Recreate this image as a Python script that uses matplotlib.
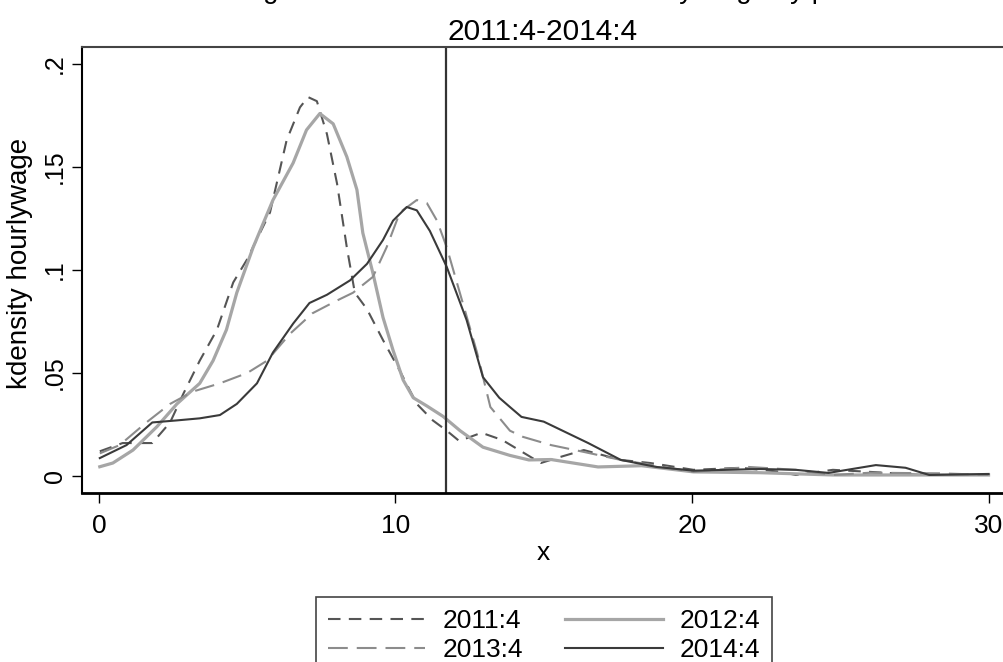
import numpy as np
import matplotlib.pyplot as plt

plt.rcParams['font.family'] = ['Liberation Sans', 'DejaVu Sans']

# kdensity hourlywage
x11 = [0.03, 0.8, 1.5, 1.8, 2.4, 2.85, 3.4, 3.98, 4.53, 4.99, 5.77, 6.33, 6.78, 7.05,
       7.35, 7.69, 8.03, 8.36, 8.63, 9.04, 9.58, 10.15, 10.72, 11.26, 11.73, 12.15,
       12.9, 13.6, 14.9, 15.5, 16.35, 17.6, 18.6, 20.05, 21.65, 23.0, 23.5, 24.75,
       26.0, 27.8, 30.0]
y11 = [0.012, 0.016, 0.016, 0.016, 0.026, 0.040, 0.056, 0.071, 0.094, 0.105, 0.128,
       0.163, 0.179, 0.184, 0.182, 0.166, 0.142, 0.111, 0.089, 0.081, 0.066, 0.051,
       0.035, 0.027, 0.022, 0.017, 0.021, 0.0175, 0.0063, 0.009, 0.0126, 0.0078,
       0.0063, 0.003, 0.004, 0.002, 0.0005, 0.003, 0.002, 0.0005, 0.0005]

x12 = [0.03, 0.47, 1.15, 1.96, 2.63, 3.4, 3.85, 4.3, 4.65, 5.2, 5.87, 6.55, 7.0, 7.45,
       7.9, 8.36, 8.7, 8.9, 9.24, 9.58, 9.92, 10.26, 10.6, 11.06, 11.6, 12.18, 12.95,
       13.86, 14.5, 15.25, 16.83, 18.3, 20.05, 22.3, 24.75, 30.0]
y12 = [0.0045, 0.0063, 0.0126, 0.024, 0.035, 0.045, 0.056, 0.071, 0.089, 0.111, 0.134,
       0.152, 0.168, 0.176, 0.171, 0.155, 0.139, 0.118, 0.0985, 0.077, 0.061, 0.0466,
       0.038, 0.034, 0.029, 0.022, 0.014, 0.010, 0.0078, 0.008, 0.0044, 0.005, 0.002,
       0.0016, 0.0005, 0.0005]

x13 = [0.03, 0.7, 1.6, 2.4, 3.17, 4.08, 5.0, 5.67, 6.44, 7.2, 8.0, 8.57, 9.24, 9.7,
       10.15, 10.72, 11.06, 11.4, 11.73, 12.17, 12.75, 13.2, 13.86, 14.3, 15.25, 16.35,
       17.6, 19.05, 20.05, 21.9, 23.5, 24.75, 26.0, 28.4, 30.0]
y13 = [0.011, 0.015, 0.026, 0.035, 0.041, 0.045, 0.050, 0.056, 0.069, 0.079, 0.085,
       0.089, 0.0967, 0.111, 0.128, 0.134, 0.1325, 0.124, 0.111, 0.089, 0.060, 0.0335,
       0.022, 0.019, 0.015, 0.0117, 0.0078, 0.0044, 0.002, 0.0044, 0.003, 0.0005,
       0.0016, 0.0013, 0.0005]

x14 = [0.03, 0.93, 1.8, 2.63, 3.4, 4.08, 4.65, 5.33, 5.87, 6.55, 7.1, 7.69, 8.47, 9.04,
       9.58, 9.92, 10.38, 10.72, 11.16, 11.73, 12.4, 12.95, 13.5, 13.86, 14.25, 15.0,
       16.5, 17.6, 18.8, 20.05, 22.3, 23.5, 24.6, 26.2, 27.2, 28.0, 30.0]
y14 = [0.0087, 0.015, 0.026, 0.027, 0.028, 0.0296, 0.035, 0.045, 0.060, 0.074, 0.084,
       0.088, 0.095, 0.103, 0.1146, 0.124, 0.1306, 0.129, 0.119, 0.1015, 0.0757, 0.048,
       0.038, 0.0335, 0.0287, 0.0264, 0.016, 0.0078, 0.0044, 0.0026, 0.0034, 0.003,
       0.0015, 0.0053, 0.004, 0.0005, 0.001]

vline_x = 11.7
xticks = [0, 10, 20, 30]
yticks = [0, 0.05, 0.1, 0.15, 0.2]
ytick_labels = ['0', '.05', '.1', '.15', '.2']

fig = plt.figure(figsize=(10.04, 6.62), dpi=100)
ax = fig.add_axes([82/1004, (662-493)/662, (1020-82)/1004, 446/662])

l11, = ax.plot(x11, y11, color='#555555', lw=1.5, dashes=(6, 4), label='2011:4')
l12, = ax.plot(x12, y12, color='#a6a6a6', lw=2.3, label='2012:4')
l13, = ax.plot(x13, y13, color='#8c8c8c', lw=1.5, dashes=(9.5, 4.3), label='2013:4')
l14, = ax.plot(x14, y14, color='#3a3a3a', lw=1.5, label='2014:4')
ax.axvline(vline_x, color='#333333', lw=1.6)

ax.set_xlim(-0.57, 31.06)
ax.set_ylim(-0.00825, 0.2083)
ax.set_xticks(xticks)
ax.set_yticks(yticks)
ax.set_yticklabels(ytick_labels, rotation=90, va='center')
ax.tick_params(axis='x', length=7, width=1, pad=8, labelsize=19)
ax.tick_params(axis='y', length=7, width=1, pad=4, labelsize=18)

ax.spines['right'].set_visible(False)
ax.spines['left'].set_linewidth(1.5)
ax.spines['top'].set_linewidth(1.5)
ax.spines['top'].set_color('#444444')
ax.spines['bottom'].set_linewidth(2)

ax.set_xlabel('x', fontsize=19)
ax.xaxis.set_label_coords((543 - 82)/938, -0.108)
ax.set_ylabel('kdensity hourlywage', fontsize=20)
ax.yaxis.set_label_coords(-0.052, 0.515)

fig.text(543/1004, 1.014, 'Changes in the distribution of real hourly wage by period',
         ha='center', va='center', fontsize=20)
fig.text(543/1004, 1 - 32/662, '2011:4-2014:4', ha='center', va='center', fontsize=21.5)

# order so rows read 2011:4 2012:4 / 2013:4 2014:4
leg = ax.legend([l11, l13, l12, l14], ['2011:4', '2013:4', '2012:4', '2014:4'],
                loc='upper center', bbox_to_anchor=(544/1004, 1 - 597/662),
                bbox_transform=fig.transFigure, ncol=2, fontsize=19,
                handlelength=3.7, handletextpad=0.65, columnspacing=1.6,
                labelspacing=0.2, borderpad=0.45, borderaxespad=0,
                fancybox=False, framealpha=1)
leg.get_frame().set_edgecolor('#444444')
leg.get_frame().set_linewidth(1.2)

plt.savefig('out.png', dpi=100)
